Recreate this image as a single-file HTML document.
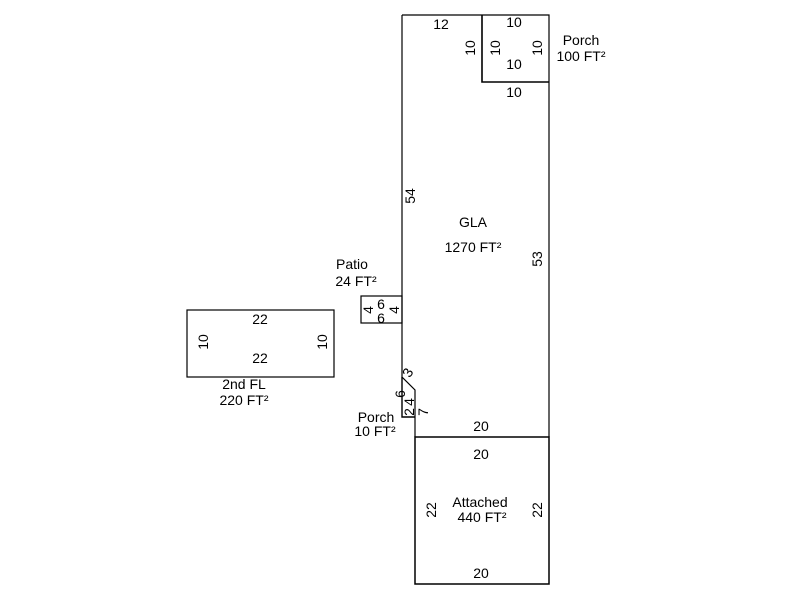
<!DOCTYPE html>
<html><head><style>body{margin:0;background:#fff}svg{display:block}text{font-family:"Liberation Sans",Arial,sans-serif;font-size:14px;fill:#000}</style></head><body>
<svg width="800" height="600" viewBox="0 0 800 600" xmlns="http://www.w3.org/2000/svg">
<g fill="none" stroke="#000" stroke-width="1.2">
<path d="M402 15 H549 V437 M402 15 V377 L415 390 V437"/>
<path d="M482 15 V82 H549" stroke-width="1.6"/>
<path d="M402 377 V417 H415" stroke-width="1.4"/>
<rect x="361" y="296" width="41" height="27"/>
<rect x="187" y="310" width="147" height="67"/>
<path d="M415 437 H549 V584 H415 Z" stroke-width="1.5"/>
</g>
<g text-anchor="middle">
<text x="441" y="29">12</text>
<text x="514" y="27">10</text>
<text x="514" y="69">10</text>
<text x="514" y="97">10</text>
<text x="581" y="45">Porch</text>
<text x="581" y="61">100 FT²</text>
<text x="473" y="227">GLA</text>
<text x="473" y="252">1270 FT²</text>
<text x="352" y="269">Patio</text>
<text x="356" y="286">24 FT²</text>
<text x="381" y="309">6</text>
<text x="381" y="323">6</text>
<text x="260" y="324">22</text>
<text x="260" y="363">22</text>
<text x="244" y="389">2nd FL</text>
<text x="244" y="405">220 FT²</text>
<text x="376" y="422">Porch</text>
<text x="375" y="436">10 FT²</text>
<text x="481" y="431">20</text>
<text x="481" y="459">20</text>
<text x="480" y="507">Attached</text>
<text x="482" y="522">440 FT²</text>
<text x="481" y="578">20</text>
</g>
<g text-anchor="middle">
<text transform="translate(475,48) rotate(-90)">10</text>
<text transform="translate(500,48) rotate(-90)">10</text>
<text transform="translate(542,48) rotate(-90)">10</text>
<text transform="translate(415,196) rotate(-90)">54</text>
<text transform="translate(542,259) rotate(-90)">53</text>
<text transform="translate(373,310) rotate(-90)">4</text>
<text transform="translate(399,310) rotate(-90)">4</text>
<text transform="translate(208,342) rotate(-90)">10</text>
<text transform="translate(327,342) rotate(-90)">10</text>
<text transform="translate(412,375) rotate(-60)">3</text>
<text transform="translate(405,394) rotate(-90)">6</text>
<text transform="translate(414,402) rotate(-90)">4</text>
<text transform="translate(414,412) rotate(-90)">2</text>
<text transform="translate(428,412) rotate(-90)">7</text>
<text transform="translate(436,510) rotate(-90)">22</text>
<text transform="translate(542,510) rotate(-90)">22</text>
</g>
</svg>
</body></html>
